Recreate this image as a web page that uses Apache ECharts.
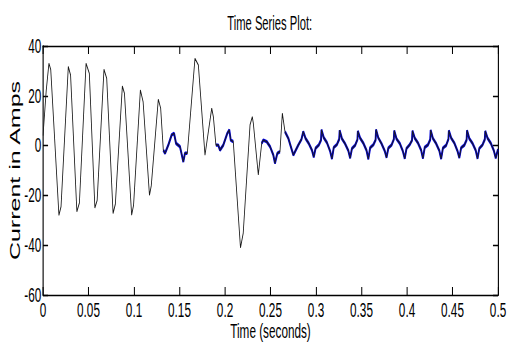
<!DOCTYPE html>
<html>
<head>
<meta charset="utf-8">
<script src="https://cdn.jsdelivr.net/npm/echarts@6/dist/echarts.min.js"></script>
<style>
html,body{margin:0;padding:0;background:#fff;overflow:hidden;width:507px;height:347px;}
#c{width:905px;height:347px;transform:scaleX(0.56);transform-origin:0 0;}
</style>
</head>
<body>
<div id="c"></div>
<script>
// ---- data (time in seconds, current in amps) ----
var time = [
  0.000,0.0035,0.0065,0.0085,0.0175,0.0198,0.0278,0.0303,0.0372,0.0400,
  0.0473,0.0509,0.0570,0.0595,0.0670,0.0700,0.0770,0.0795,0.0872,0.0895,
  0.0974,0.0995,0.1070,0.1100,0.1170,0.1190,0.1267,0.1293,
  0.1322,0.1341,0.1377,0.1414,0.1440,0.1462,0.1505,0.1542,0.1560,0.1586,
  0.1670,0.1707,0.1780,0.1854,0.1872,
  0.1900,0.1926,0.1945,0.1981,0.2025,0.2047,0.2063,0.2091,
  0.2170,0.2200,0.2275,0.2300,0.2311,0.2366,
  0.2403,0.2421,0.2458,0.2495,0.2531,0.2549,0.2575,0.2604,
  0.2630,
  0.2659,0.2696,0.2751,0.2805,0.2840,
  0.286,0.2885,0.292,0.2955,0.2975,0.2995,0.303,0.3055,
  0.306,0.3085,0.312,0.3155,0.3175,0.3195,0.323,0.3255,
  0.326,0.3285,0.332,0.3355,0.3375,0.3395,0.343,0.3455,
  0.346,0.3485,0.352,0.3555,0.3575,0.3595,0.363,0.3655,
  0.366,0.3685,0.372,0.3755,0.3775,0.3795,0.383,0.3855,
  0.386,0.3885,0.392,0.3955,0.3975,0.3995,0.403,0.4055,
  0.406,0.4085,0.412,0.4155,0.4175,0.4195,0.423,0.4255,
  0.426,0.4285,0.432,0.4355,0.4375,0.4395,0.443,0.4455,
  0.446,0.4485,0.452,0.4555,0.4575,0.4595,0.463,0.4655,
  0.466,0.4685,0.472,0.4755,0.4775,0.4795,0.483,0.4855,
  0.486,0.4885,0.492,0.4955,0.4975,0.500
];
var current = [
  4,22,33,30.5,-28,-24.5,31.7,28.3,-26.5,-23,
  33,29,-25,-22,30.6,27,-27.2,-23.5,23.9,21,
  -27.9,-24,22.3,17.6,-19.9,-16,18.6,15,
  -1.8,-3.1,0.2,4.3,4.9,0.9,-0.4,-6.5,-3.1,-3.1,
  35,32.4,-3.8,15,11.6,
  0.2,0.2,-1.8,0.2,4.9,6.3,2.2,1.6,
  -41,-35.2,8.3,11.6,9,-11.8,
  0.9,2.2,1.6,-0.4,-3.8,-7.1,-3.1,-2.4,
  13,
  5.6,2.9,-3.8,0.2,2.5,
  5.6,2.9,0.9,-1.8,-4.6,-1.1,0.2,2.2,
  6.3,3.2,1.2,-2.2,-5.3,-0.8,0.4,2.6,
  6.1,2.8,0.7,-2.0,-5.0,-1.2,0.1,2.4,
  5.8,3.0,1.0,-1.9,-5.4,-0.9,0.3,2.3,
  6.4,3.1,0.8,-2.1,-4.8,-1.0,0.2,2.5,
  6.0,2.7,0.9,-2.3,-5.2,-1.1,0.4,2.1,
  5.9,3.0,1.1,-1.8,-5.1,-0.7,0.3,2.4,
  6.2,2.9,0.8,-2.0,-5.3,-1.0,0.1,2.6,
  6.0,3.1,1.0,-2.2,-4.9,-0.9,0.2,2.3,
  6.1,2.8,0.9,-1.9,-5.2,-1.1,0.3,2.5,
  5.8,3.0,1.0,-2.1,-5.0,-1.5
];
// blue (noisy near-zero) segments; null breaks the line
var blueTime = [
  0.1322,0.1341,0.1377,0.1414,0.1440,0.1462,0.1505,0.1542,0.1560,0.1586, null,
  0.1900,0.1926,0.1945,0.1981,0.2025,0.2047,0.2063,0.2091, null,
  0.2403,0.2421,0.2458,0.2495,0.2531,0.2549,0.2575,0.2604, null,
  0.2659,0.2696,0.2751,0.2805,0.2840,
  0.286,0.2885,0.292,0.2955,0.2975,0.2995,0.303,0.3055,
  0.306,0.3085,0.312,0.3155,0.3175,0.3195,0.323,0.3255,
  0.326,0.3285,0.332,0.3355,0.3375,0.3395,0.343,0.3455,
  0.346,0.3485,0.352,0.3555,0.3575,0.3595,0.363,0.3655,
  0.366,0.3685,0.372,0.3755,0.3775,0.3795,0.383,0.3855,
  0.386,0.3885,0.392,0.3955,0.3975,0.3995,0.403,0.4055,
  0.406,0.4085,0.412,0.4155,0.4175,0.4195,0.423,0.4255,
  0.426,0.4285,0.432,0.4355,0.4375,0.4395,0.443,0.4455,
  0.446,0.4485,0.452,0.4555,0.4575,0.4595,0.463,0.4655,
  0.466,0.4685,0.472,0.4755,0.4775,0.4795,0.483,0.4855,
  0.486,0.4885,0.492,0.4955,0.4975,0.500
];
var blueCurrent = [
  -1.8,-3.1,0.2,4.3,4.9,0.9,-0.4,-6.5,-3.1,-3.1, null,
  0.2,0.2,-1.8,0.2,4.9,6.3,2.2,1.6, null,
  0.9,2.2,1.6,-0.4,-3.8,-7.1,-3.1,-2.4, null,
  5.6,2.9,-3.8,0.2,2.5,
  5.6,2.9,0.9,-1.8,-4.6,-1.1,0.2,2.2,
  6.3,3.2,1.2,-2.2,-5.3,-0.8,0.4,2.6,
  6.1,2.8,0.7,-2.0,-5.0,-1.2,0.1,2.4,
  5.8,3.0,1.0,-1.9,-5.4,-0.9,0.3,2.3,
  6.4,3.1,0.8,-2.1,-4.8,-1.0,0.2,2.5,
  6.0,2.7,0.9,-2.3,-5.2,-1.1,0.4,2.1,
  5.9,3.0,1.1,-1.8,-5.1,-0.7,0.3,2.4,
  6.2,2.9,0.8,-2.0,-5.3,-1.0,0.1,2.6,
  6.0,3.1,1.0,-2.2,-4.9,-0.9,0.2,2.3,
  6.1,2.8,0.9,-1.9,-5.2,-1.1,0.3,2.5,
  5.8,3.0,1.0,-2.1,-5.0,-1.5
];
var xTickLabels = ['0','0.05','0.1','0.15','0.2','0.25','0.3','0.35','0.4','0.45','0.5'];
var yTickLabels = ['-60','-40','-20','0','20','40'];

// ---- build ----
var blackData = time.map(function(t,i){ return [t, current[i]]; });
var blueData = blueTime.map(function(t,i){ return t === null ? '-' : [t, blueCurrent[i]]; });

var FONT = '"Liberation Sans", Arial, sans-serif';
var hLine = {show:true, onZero:false, lineStyle:{color:'#000', width:1.3}};
var vLine = {show:true, onZero:false, lineStyle:{color:'#000', width:2}};
var xTick = {show:true, inside:true, length:8, lineStyle:{color:'#000', width:1.8}};
var yTick = {show:true, inside:true, length:9, lineStyle:{color:'#000', width:1.3}};
var xFmt = function(v){ var k = Math.round(v/0.05); return xTickLabels[k] !== undefined ? xTickLabels[k] : ''; };
var yFmt = function(v){ var k = Math.round((v+60)/20); return yTickLabels[k] !== undefined ? yTickLabels[k] : ''; };

var chart = echarts.init(document.getElementById('c'), null, {renderer:'svg'});
chart.setOption({
  animation:false,
  backgroundColor:'#fff',
  title:{
    text:'Time Series Plot:', left:406, top:13, padding:0,
    textStyle:{fontFamily:FONT, fontSize:20, fontWeight:'normal', color:'#000'}
  },
  grid:{left:76.8, right:15.7, top:46, bottom:52, containLabel:false, outerBoundsMode:'none'},
  xAxis:[{
    type:'value', min:0, max:0.5, interval:0.05, position:'bottom',
    name:'Time (seconds)', nameLocation:'middle', nameGap:26, nameMoveOverlap:false,
    nameTextStyle:{fontFamily:FONT, fontSize:21, lineHeight:21, color:'#000'},
    axisLine:hLine, axisTick:xTick, splitLine:{show:false},
    axisLabel:{formatter:xFmt, fontFamily:FONT, fontSize:21, lineHeight:21, color:'#000', margin:5, showMinLabel:true, showMaxLabel:true}
  },{
    type:'value', min:0, max:0.5, interval:0.05, position:'top',
    axisLine:hLine, axisTick:xTick, splitLine:{show:false}, axisLabel:{show:false}
  }],
  yAxis:[{
    type:'value', min:-60, max:40, interval:20, position:'left',
    name:'Current in Amps', nameLocation:'middle', nameGap:38, nameMoveOverlap:false,
    nameTextStyle:{fontFamily:FONT, fontSize:25, color:'#000'},
    axisLine:vLine, axisTick:yTick, splitLine:{show:false},
    axisLabel:{formatter:yFmt, fontFamily:FONT, fontSize:21, color:'#000', margin:3}
  },{
    type:'value', min:-60, max:40, interval:20, position:'right',
    axisLine:vLine, axisTick:yTick, splitLine:{show:false}, axisLabel:{show:false}
  }],
  series:[{
    type:'line', data:blueData, symbol:'none', connectNulls:false,
    lineStyle:{color:'#0000e0', width:3.4}, z:2
  },{
    type:'line', data:blackData, symbol:'none',
    lineStyle:{color:'#1a1a1a', width:1.5}, z:3
  }]
});
</script>
</body>
</html>
